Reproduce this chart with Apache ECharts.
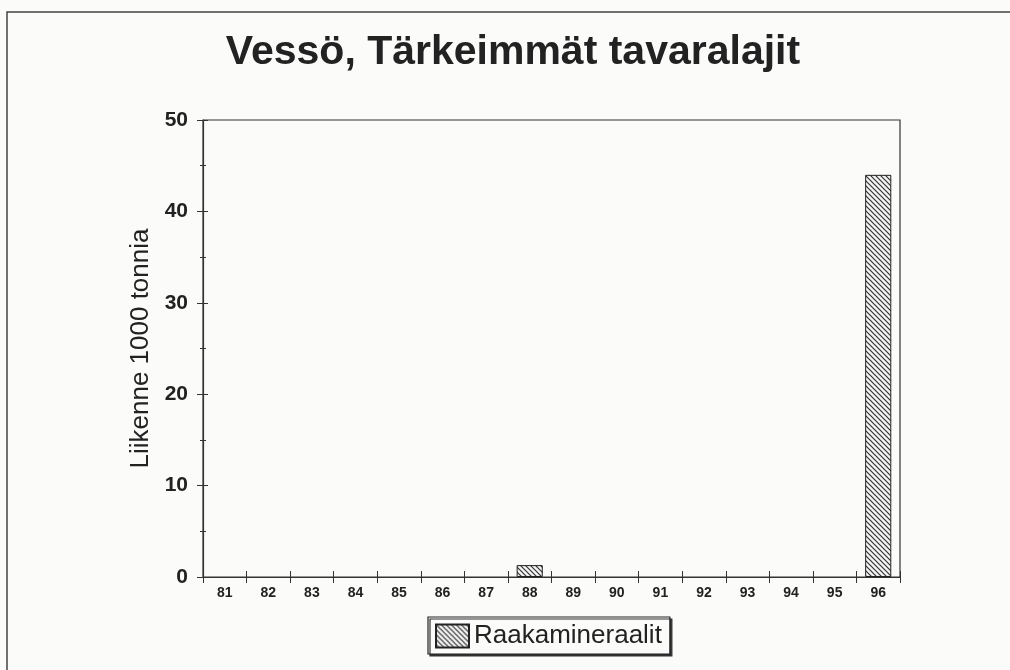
<!DOCTYPE html>
<html>
<head>
<meta charset="utf-8">
<script src="https://cdn.jsdelivr.net/npm/echarts@6/dist/echarts.min.js"></script>
<style>
html,body{margin:0;padding:0;background:#fbfbfa;}
#c{width:1010px;height:670px;}
</style>
</head>
<body>
<div id="c"></div>
<script>
const categories = ['81','82','83','84','85','86','87','88','89','90','91','92','93','94','95','96'];
const raakamineraalit = [0,0,0,0,0,0,0,1.3,0,0,0,0,0,0,0,44];
const yTicks = [0,10,20,30,40,50];
const titleText = 'Vessö, Tärkeimmät tavaralajit';
const yName = 'Liikenne 1000 tonnia';
const seriesName = 'Raakamineraalit';

function hatch(){
  const s = 5;
  const cv = document.createElement('canvas');
  cv.width = s; cv.height = s;
  const g = cv.getContext('2d');
  g.fillStyle = '#f4f4f4'; g.fillRect(0,0,s,s);
  g.strokeStyle = '#333'; g.lineWidth = 1.2;
  g.beginPath();
  g.moveTo(-1,-1); g.lineTo(s+1,s+1);
  g.moveTo(-1,s-1); g.lineTo(1,s+1);
  g.moveTo(s-1,-1); g.lineTo(s+1,1);
  g.stroke();
  return {image: cv, repeat: 'repeat'};
}

const barData = raakamineraalit.map(v => v === 0 ? {value: v, itemStyle: {borderWidth: 0}} : v);

const chart = echarts.init(document.getElementById('c'));
const txt = '#222';
chart.setOption({
  backgroundColor: '#fbfbfa',
  animation: false,
  title: {
    text: titleText, left: 508, textAlign: 'center', top: 27,
    textStyle: {fontFamily: 'Liberation Sans', fontWeight: 'bold', fontSize: 41, color: txt}
  },
  graphic: [{
    type: 'rect', shape: {x: 7, y: 12, width: 1100, height: 800},
    style: {fill: 'none', stroke: '#444', lineWidth: 1.5}, silent: true
  }],
  legend: {
    data: [{name: seriesName, icon: 'rect'}], left: 428, top: 617,
    itemWidth: 33, itemHeight: 23, itemGap: 8,
    padding: [6, 8, 5, 7],
    borderColor: '#222', borderWidth: 1.2, backgroundColor: '#fbfbfa',
    shadowColor: '#333', shadowOffsetX: 2, shadowOffsetY: 2, shadowBlur: 0,
    textStyle: {fontFamily: 'Liberation Sans', fontSize: 26, color: txt}
  },
  grid: {
    left: 203, top: 120, right: 110, bottom: 93,
    show: true, borderColor: '#333', borderWidth: 1.2, backgroundColor: 'transparent'
  },
  xAxis: [{
    type: 'category', data: categories, boundaryGap: true,
    axisLine: {lineStyle: {color: '#333', width: 1.2}},
    axisTick: {show: true, length: 6, lineStyle: {color: '#333'}},
    axisLabel: {margin: 9, fontFamily: 'Liberation Sans Narrow, Liberation Sans', fontWeight: 'bold', fontSize: 14, color: txt},
    splitLine: {show: false}
  },{
    type: 'category', data: categories, boundaryGap: true, position: 'bottom',
    axisLine: {show: false},
    axisTick: {show: true, inside: true, length: 6, lineStyle: {color: '#333'}},
    axisLabel: {show: false}, splitLine: {show: false}
  }],
  yAxis: [{
    type: 'value', min: yTicks[0], max: yTicks[yTicks.length-1], interval: 10,
    name: yName, nameLocation: 'middle', nameGap: 43, nameRotate: 90,
    nameTextStyle: {fontFamily: 'Liberation Sans', fontSize: 26, color: txt},
    axisLine: {show: true, lineStyle: {color: '#333', width: 1.2}},
    axisTick: {show: true, length: 6, lineStyle: {color: '#333'}},
    minorTick: {show: true, splitNumber: 2, length: 3, lineStyle: {color: '#333'}},
    axisLabel: {margin: 15, fontFamily: 'Liberation Sans', fontWeight: 'bold', fontSize: 21, color: txt},
    splitLine: {show: false}
  },{
    type: 'value', min: yTicks[0], max: yTicks[yTicks.length-1], interval: 10, position: 'left',
    axisLine: {show: false},
    axisTick: {show: true, inside: true, length: 5, lineStyle: {color: '#333'}},
    minorTick: {show: true, splitNumber: 2, length: 3, lineStyle: {color: '#333'}},
    axisLabel: {show: false}, splitLine: {show: false}
  }],
  series: [{
    name: seriesName, type: 'bar', data: barData,
    xAxisIndex: 0, yAxisIndex: 0, barWidth: '60%',
    itemStyle: {color: hatch(), borderColor: '#222', borderWidth: 1}
  }]
});
</script>
</body>
</html>
